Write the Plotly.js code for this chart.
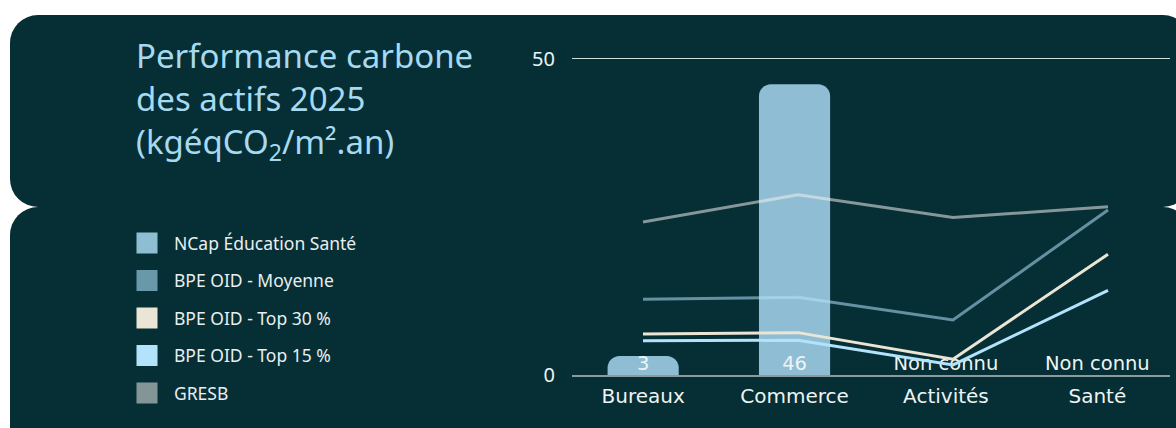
<!DOCTYPE html>
<html>
<head>
<meta charset="utf-8">
<script src="https://cdn.plot.ly/plotly-3.0.1.min.js"></script>
<style>
  html, body { margin: 0; padding: 0; background: #ffffff; width: 1176px; height: 428px; overflow: hidden; }
  .panel { position: absolute; left: 10px; width: 1181px; background: #062e35; border-radius: 28px; }
  #p1 { top: 15px; height: 191.5px; }
  #p2 { top: 207px; height: 260px; }
  #chart { position: absolute; left: 0; top: 0; width: 1176px; height: 428px; }
</style>
</head>
<body>
<div class="panel" id="p1"></div>
<div class="panel" id="p2"></div>
<div id="chart"></div>
<script>
// ---- data ----
const categories = ['Bureaux', 'Commerce', 'Activités', 'Santé'];
const ncapValues = [3, 46, null, null];
const bpeMoyenne = [12.0, 12.3, 8.7, 26.1];
const bpeTop30 = [6.5, 6.7, 2.5, 19.1];
const bpeTop15 = [5.4, 5.5, 1.6, 13.4];
const gresb = [24.2, 28.5, 24.9, 26.6];
const seriesNames = ['NCap Éducation Santé', 'BPE OID - Moyenne', 'BPE OID - Top 30 %', 'BPE OID - Top 15 %', 'GRESB'];
const missingLabel = 'Non connu';
const yTicks = [0, 50];

// ---- styles ----
const swatchColors = ['#8fbdd4', '#6898aa', '#ebe5d5', '#b3e3fb', '#849597'];
const lineColors = {
  moy: 'rgba(179,227,251,0.55)',
  t30: '#ebe5d5',
  t15: '#b3e3fb',
  gresb: 'rgba(239,239,238,0.55)'
};

const barLabels = ncapValues.map(v => v == null ? missingLabel : String(v));

const traces = [];
traces.push({
  type: 'bar', x: categories, y: ncapValues, name: seriesNames[0],
  xaxis: 'x', yaxis: 'y', width: 0.47,
  marker: { color: swatchColors[0], cornerradius: 12 },
  showlegend: false, hoverinfo: 'skip'
});
traces.push({
  type: 'scatter', mode: 'text', x: categories, y: ncapValues.map(() => 0),
  text: barLabels, textposition: 'top center',
  textfont: { family: 'DejaVu Sans', size: 19.5, color: '#eef4f4' },
  xaxis: 'x', yaxis: 'y', showlegend: false, cliponaxis: false, hoverinfo: 'skip'
});
function lineTrace(name, vals, color) {
  return {
    type: 'scatter', mode: 'lines', x: categories, y: vals, name: name,
    xaxis: 'x2', yaxis: 'y', line: { color: color, width: 3 },
    showlegend: false, hoverinfo: 'skip', cliponaxis: false
  };
}
traces.push(lineTrace(seriesNames[4], gresb, lineColors.gresb));
traces.push(lineTrace(seriesNames[1], bpeMoyenne, lineColors.moy));
traces.push(lineTrace(seriesNames[2], bpeTop30, lineColors.t30));
traces.push(lineTrace(seriesNames[3], bpeTop15, lineColors.t15));

// legend entries (square swatches)
seriesNames.forEach((n, i) => {
  traces.push({
    type: 'scatter', mode: 'markers', x: [null], y: [null], name: n,
    legendgroup: 'g' + i, xaxis: 'x', yaxis: 'y',
    marker: { symbol: 'square', size: 16, color: swatchColors[i], line: { color: swatchColors[i], width: 5 } },
    hoverinfo: 'skip'
  });
});

const layout = {
  width: 1176, height: 428,
  paper_bgcolor: 'rgba(0,0,0,0)', plot_bgcolor: 'rgba(0,0,0,0)',
  margin: { l: 572, r: 6, t: 57, b: 53 },
  hovermode: false,
  title: {
    text: 'Performance carbone<br>des actifs 2025<br>(kgéqCO<sub>2</sub>/m².an)',
    xref: 'container', yref: 'container', x: 136 / 1176, xanchor: 'left',
    y: 1 - 68 / 428, yanchor: 'top',
    font: { family: 'Noto Sans', size: 33, color: '#a6daf0' }
  },
  showlegend: true,
  legend: {
    xref: 'container', yref: 'container', x: 120 / 1176, xanchor: 'left',
    y: 1 - 225 / 428, yanchor: 'top',
    bgcolor: 'rgba(0,0,0,0)', borderwidth: 0,
    itemwidth: 44, traceorder: 'grouped', tracegroupgap: 11.8,
    font: { family: 'Noto Sans', size: 17.5, color: '#e9efef' }
  },
  xaxis: {
    type: 'category', range: [-0.47, 3.48], fixedrange: true,
    showline: true, linecolor: '#8b9b9d', linewidth: 2,
    showgrid: false, zeroline: false, ticks: '',
    ticklabelstandoff: 2,
    tickfont: { family: 'DejaVu Sans', size: 20, color: '#eef3f3' }
  },
  xaxis2: {
    type: 'category', overlaying: 'x', range: [-0.458, 3.4],
    visible: false, fixedrange: true
  },
  yaxis: {
    range: [0, 50.3], tickvals: yTicks, ticktext: yTicks.map(String),
    showgrid: true, gridcolor: '#cfdcdc', gridwidth: 1,
    zeroline: false, showline: false, ticks: '',
    ticklabelstandoff: 16,
    tickfont: { family: 'Noto Sans', size: 20, color: '#eef3f3' }
  }
};

Plotly.newPlot('chart', traces, layout, { displayModeBar: false, staticPlot: true });
</script>
</body>
</html>
